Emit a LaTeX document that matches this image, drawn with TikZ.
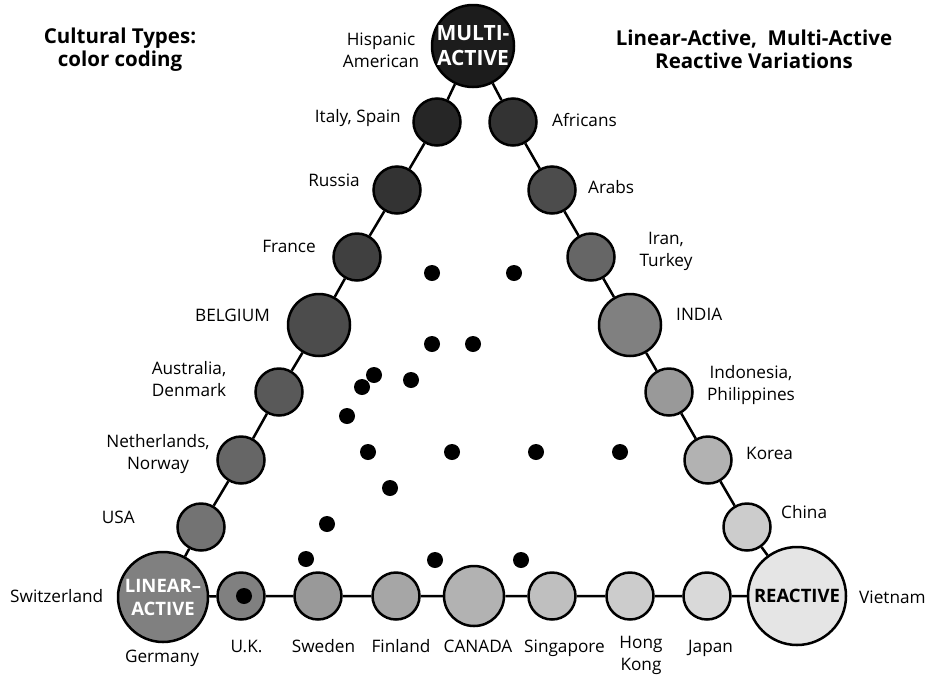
\documentclass[tikz,border=0pt]{standalone}
\usepackage{fontspec}
\setmainfont{Open Sans}

\begin{document}
\begin{tikzpicture}[x=1pt,y=-1pt,
    lbl/.style={inner sep=0pt,align=center,font=\fontsize{17.2}{22}\selectfont},
    headline/.style={inner sep=0pt,align=center,font=\fontsize{20.5}{23}\selectfont\bfseries},
    land/.style={circle,draw,line width=2.5pt,minimum size=47pt,inner sep=0pt},
    pole/.style={land,inner sep=-8pt,align=center,font=\fontsize{18.5}{23}\selectfont\bfseries},
    link/.style={line width=2.5pt},
    spot/.style={circle,fill=black,minimum size=16pt,inner sep=0pt}]
    \useasboundingbox (0,0) rectangle (931,678);

    \node[headline] (types) at (120,50) {Cultural Types:\\color coding};
    \node[headline] (variants) at (754,49) {Linear-Active,\ \ Multi-Active\\Reactive Variations};

    \node[pole,fill=black!89,text=white,minimum size=82pt,font=\fontsize{21}{25}\selectfont\bfseries] (multi) at (473,46) {MULTI-\\ACTIVE};
    \node[pole,fill=black!50,text=white,minimum size=90pt] (linear) at (163,597) {LINEAR--\\ACTIVE};
    \node[pole,fill=black!10,minimum size=98pt] (reactive) at (797,596) {REACTIVE};

    \node[land,fill=black!85] (italy) at (437,122) {};
    \node[land,fill=black!80] (russia) at (397,190) {};
    \node[land,fill=black!75] (france) at (357,257) {};
    \node[land,fill=black!70,minimum size=62pt] (belgium) at (319,325) {};
    \node[land,fill=black!65] (austral) at (279,392) {};
    \node[land,fill=black!60] (nether) at (241,460) {};
    \node[land,fill=black!55] (usa) at (201,527) {};

    \node[land,fill=black!80] (africa) at (513,122) {};
    \node[land,fill=black!70] (arabs) at (552,190) {};
    \node[land,fill=black!60] (iran) at (591,257) {};
    \node[land,fill=black!50,minimum size=62pt] (india) at (630,325) {};
    \node[land,fill=black!40] (indon) at (669,392) {};
    \node[land,fill=black!30] (korea) at (708,460) {};
    \node[land,fill=black!20] (china) at (747,527) {};

    \node[land,fill=black!50] (uk) at (241,596) {};
    \node[land,fill=black!40] (sweden) at (318,596) {};
    \node[land,fill=black!35] (finland) at (396,596) {};
    \node[land,fill=black!30,minimum size=60pt] (canada) at (474,596) {};
    \node[land,fill=black!25] (singap) at (552,596) {};
    \node[land,fill=black!20] (hongk) at (630,596) {};
    \node[land,fill=black!15] (japan) at (707,596) {};

    \draw[link] (multi) -- (italy) -- (russia) -- (france) -- (belgium) -- (austral) -- (nether) -- (usa) -- (linear);
    \draw[link] (multi) -- (africa) -- (arabs) -- (iran) -- (india) -- (indon) -- (korea) -- (china) -- (reactive);
    \draw[link] (linear) -- (uk) -- (sweden) -- (finland) -- (canada) -- (singap) -- (hongk) -- (japan) -- (reactive);

    \node[lbl] (lhisp) at (381,50) {Hispanic\\American};
    \node[lbl,anchor=base east] (litaly) at (401,122) {Italy, Spain};
    \node[lbl,anchor=base west] (lafrica) at (552,126) {Africans};
    \node[lbl,anchor=base east] (lrussia) at (360,186) {Russia};
    \node[lbl,anchor=base west] (larabs) at (588,193) {Arabs};
    \node[lbl,anchor=base east] (lfrance) at (316,252) {France};
    \node[lbl] (liran) at (666,251) {Iran,\\Turkey};
    \node[lbl,anchor=base east] (lbelgium) at (270,321) {BELGIUM};
    \node[lbl,anchor=base west] (lindia) at (676,320) {INDIA};
    \node[lbl] (laustral) at (189,379) {Australia,\\Denmark};
    \node[lbl] (lindon) at (751,385) {Indonesia,\\Philippines};
    \node[lbl] (lnether) at (158,454) {Netherlands,\\Norway};
    \node[lbl,anchor=base west] (lkorea) at (746,459) {Korea};
    \node[lbl,anchor=base east] (lusa) at (135,523) {USA};
    \node[lbl,anchor=base west] (lchina) at (781,518) {China};
    \node[lbl,anchor=base west] (lswiss) at (10,602) {Switzerland};
    \node[lbl,anchor=base west] (lviet) at (859,603) {Vietnam};
    \node[lbl,anchor=base] (lgermany) at (162,662) {Germany};
    \node[lbl,anchor=base] (luk) at (246.5,652) {U.K.};
    \node[lbl,anchor=base] (lsweden) at (323.5,652) {Sweden};
    \node[lbl,anchor=base] (lfinland) at (401,652) {Finland};
    \node[lbl,anchor=base] (lcanada) at (478,652) {CANADA};
    \node[lbl,anchor=base] (lsingap) at (564.5,652) {Singapore};
    \node[lbl] (lhongk) at (641,655) {Hong\\Kong};
    \node[lbl,anchor=base] (ljapan) at (710.5,652) {Japan};

    \foreach \x/\y [count=\i] in {432/273,514/273,432/344,473/344,374/375,362/387,411/380,347/416,368/452,452/452,536/452,620/452,390/488,327/524,306/559,435/560,521/560,244/596}
        \node[spot] (dot\i) at (\x,\y) {};
\end{tikzpicture}
\end{document}
